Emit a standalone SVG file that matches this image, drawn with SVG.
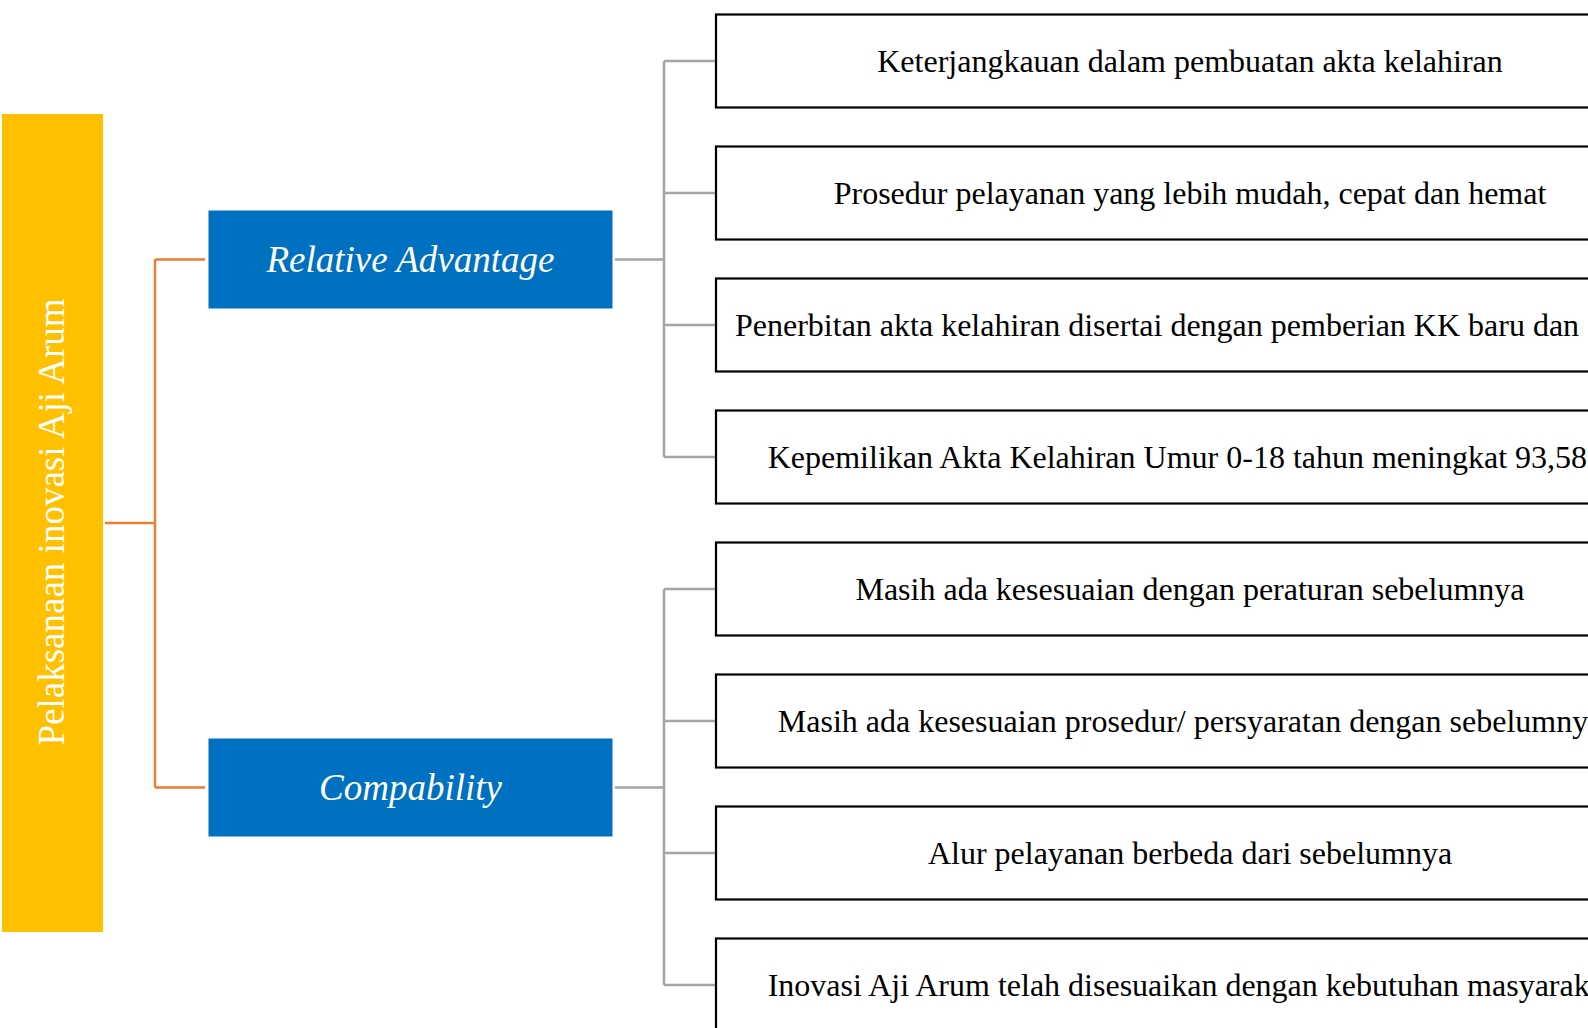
<svg xmlns="http://www.w3.org/2000/svg" width="1588" height="1028" viewBox="0 0 1588 1028">
<style>
.item rect{fill:#fff;stroke:#000;stroke-width:2.2}
.item text{font-family:"Liberation Serif","Times New Roman",serif;font-size:32px;fill:#000}
.c{text-anchor:middle}
.cat rect{fill:#0070C0}
.cat text{font-family:"Liberation Serif","Times New Roman",serif;font-size:37px;font-style:italic;fill:#fff;text-anchor:middle}
.gray{fill:none;stroke:#A5A5A5;stroke-width:2.5}
.orange{fill:none;stroke:#ED7D31;stroke-width:2.5}
</style>
<rect width="1588" height="1028" fill="#fff"/>
<g id="connectors">
<path class="orange" d="M105 523H155M155 259.5V787.5M155 259.5H205M155 787.5H205"/>
<path class="gray" d="M615 259.5H664M664 61V457M664 61H716M664 193H716M664 325H716M664 457H716"/>
<path class="gray" d="M615 787.5H664M664 589V985M664 589H716M664 721H716M664 853H716M664 985H716"/>
</g>
<g id="root">
<rect x="2" y="114" width="101" height="818" fill="#FFC000"/>
<text transform="translate(64,522) rotate(-90)" text-anchor="middle" font-family="'Liberation Serif','Times New Roman',serif" font-size="37" fill="#fff">Pelaksanaan inovasi Aji Arum</text>
</g>
<g id="relative-advantage" class="cat">
<rect x="208.5" y="210.5" width="404" height="98"/>
<text x="410.5" y="271.8">Relative Advantage</text>
</g>
<g id="compability" class="cat">
<rect x="208.5" y="738.5" width="404" height="98"/>
<text x="410.5" y="799.8">Compability</text>
</g>
<g id="item1" class="item"><rect x="716" y="14.5" width="920" height="93"/><text class="c" x="1190" y="71.5">Keterjangkauan dalam pembuatan akta kelahiran</text></g>
<g id="item2" class="item"><rect x="716" y="146.5" width="920" height="93"/><text class="c" x="1190" y="203.5">Prosedur pelayanan yang lebih mudah, cepat dan hemat</text></g>
<g id="item3" class="item"><rect x="716" y="278.5" width="920" height="93"/><text x="735" y="335.5">Penerbitan akta kelahiran disertai dengan pemberian KK baru dan</text></g>
<g id="item4" class="item"><rect x="716" y="410.5" width="920" height="93"/><text x="767.7" y="467.5">Kepemilikan Akta Kelahiran Umur 0-18 tahun meningkat 93,58</text></g>
<g id="item5" class="item"><rect x="716" y="542.5" width="920" height="93"/><text class="c" x="1190" y="599.5">Masih ada kesesuaian dengan peraturan sebelumnya</text></g>
<g id="item6" class="item"><rect x="716" y="674.5" width="920" height="93"/><text x="777.8" y="731.5">Masih ada kesesuaian prosedur/ persyaratan dengan sebelumny</text></g>
<g id="item7" class="item"><rect x="716" y="806.5" width="920" height="93"/><text class="c" x="1190" y="863.5">Alur pelayanan berbeda dari sebelumnya</text></g>
<g id="item8" class="item"><rect x="716" y="938.5" width="920" height="93"/><text x="767.7" y="995.5">Inovasi Aji Arum telah disesuaikan dengan kebutuhan masyarak</text></g>
</svg>
